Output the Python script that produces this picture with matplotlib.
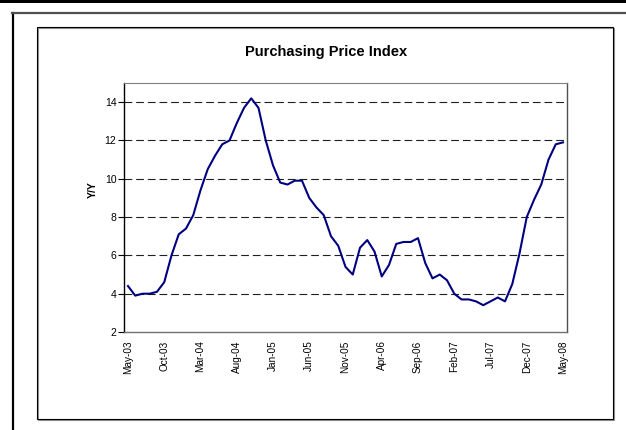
import matplotlib
matplotlib.use("Agg")
import matplotlib.pyplot as plt
from matplotlib.patches import Rectangle
from matplotlib.lines import Line2D

plt.rcParams['font.family'] = ['Liberation Sans', 'DejaVu Sans']

# Monthly year-on-year readings, May-03 through May-08
months = ["May-03", "Oct-03", "Mar-04", "Aug-04", "Jan-05", "Jun-05", "Nov-05",
          "Apr-06", "Sep-06", "Feb-07", "Jul-07", "Dec-07", "May-08"]
ppi_yy = [4.4, 3.9, 4.0, 4.0, 4.1, 4.6, 6.0, 7.1, 7.4, 8.1,
          9.4, 10.5, 11.2, 11.8, 12.0, 12.9, 13.7, 14.2, 13.7, 12.0,
          10.7, 9.8, 9.7, 9.9, 9.9, 9.0, 8.5, 8.1, 7.0, 6.5,
          5.4, 5.0, 6.4, 6.8, 6.2, 4.9, 5.5, 6.6, 6.7, 6.7,
          6.9, 5.6, 4.8, 5.0, 4.7, 4.0, 3.7, 3.7, 3.6, 3.4,
          3.6, 3.8, 3.6, 4.5, 6.1, 8.0, 8.9, 9.7, 11.0, 11.8,
          11.9]
yticks = [2, 4, 6, 8, 10, 12, 14]

W, H = 626, 430
fig = plt.figure(figsize=(W / 100, H / 100), dpi=100)
fig.patch.set_facecolor("white")


def fx(px):
    return px / W


def fy(py):
    return 1 - py / H


# page decorations: heavy top rule, outer frame and chart-area box with shadow
fig.add_artist(Rectangle((0, fy(3)), 1, fy(0) - fy(3), transform=fig.transFigure,
                         facecolor="black", edgecolor="none"))
fig.add_artist(Line2D([fx(13), fx(13)], [fy(13), 0], transform=fig.transFigure,
                      color="black", lw=1.6))
fig.add_artist(Line2D([fx(12), 1], [fy(13), fy(13)], transform=fig.transFigure,
                      color="#505050", lw=1.6))
fig.add_artist(Rectangle((fx(37.5), fy(419.5)), fx(613.5) - fx(37.5), fy(27.5) - fy(419.5),
                         transform=fig.transFigure, facecolor="none",
                         edgecolor="#909090", lw=0.8))
fig.add_artist(Rectangle((fx(36.5), fy(418.5)), fx(612.5) - fx(36.5), fy(26.5) - fy(418.5),
                         transform=fig.transFigure, facecolor="none",
                         edgecolor="black", lw=0.8))

left, right, top, bottom = 124, 567, 83, 332
ax = fig.add_axes([fx(left), fy(bottom), fx(right) - fx(left), fy(top) - fy(bottom)])
ax.set_facecolor("none")

x = list(range(len(ppi_yy)))
ax.plot(x, ppi_yy, color="#000080", lw=1.5, zorder=3)

ax.set_xlim(-0.55, len(ppi_yy) - 1 + 0.55)
ax.set_ylim(2, 15)
ax.set_yticks(yticks)
ax.set_yticklabels([str(v) for v in yticks], fontsize=7.5)
ax.set_xticks(list(range(0, len(ppi_yy), 5)))
ax.set_xticklabels(months, rotation=90, fontsize=7.2)
ax.tick_params(axis="x", length=0, pad=6)
ax.tick_params(axis="y", length=4, width=0.8, pad=1.5, direction="out")

for v in yticks[1:]:
    ax.axhline(v, color="#202020", lw=0.8, dashes=(7, 3.5), zorder=1)

ax.spines["left"].set_color("black")
ax.spines["left"].set_linewidth(1.0)
ax.spines["bottom"].set_color("#707070")
ax.spines["bottom"].set_linewidth(1.0)
ax.spines["top"].set_color("#808080")
ax.spines["top"].set_linewidth(0.8)
ax.spines["right"].set_color("#505050")
ax.spines["right"].set_linewidth(1.0)

fig.text(fx(326), fy(52), "Purchasing Price Index", ha="center", va="center",
         fontsize=10.5, fontweight="bold")
fig.text(fx(93), fy(190), "Y/Y", ha="center", va="center", rotation=90,
         fontsize=7.5, fontweight="bold")

fig.savefig("out.png", dpi=100, facecolor="white")
